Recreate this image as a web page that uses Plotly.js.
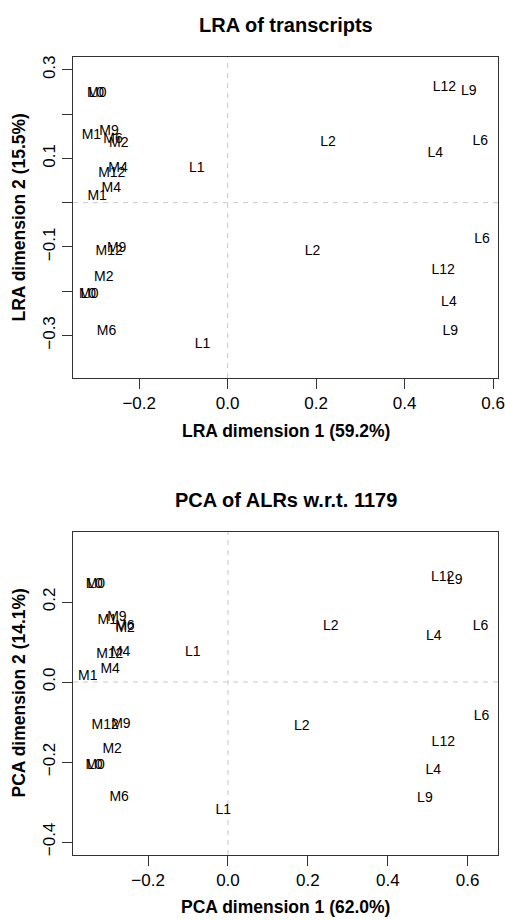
<!DOCTYPE html>
<html><head><meta charset="utf-8">
<script src="https://cdn.plot.ly/plotly-3.0.1.min.js"></script>
<style>html,body{margin:0;padding:0;background:#fff}#chart{width:505px;height:920px}</style>
</head><body><div id="chart"></div>
<script>
// Sample labels (two replicates per sample; L0 and M0 coincide)
const sampleLabels = ["M0","L0","M1","M9","M6","M2","M4","M12","M4","M1","L1",
  "M12","M9","M2","M0","L0","M6","L1",
  "L12","L9","L2","L6","L4","L6","L2","L12","L4","L9"];

// LRA coordinates
const lraDim1 = [-0.296,-0.297,-0.308,-0.268,-0.259,-0.246,-0.248,-0.262,-0.263,-0.295,-0.070,
  -0.268,-0.251,-0.280,-0.314,-0.315,-0.274,-0.057,
  0.490,0.545,0.227,0.571,0.469,0.575,0.192,0.487,0.500,0.503];
const lraDim2 = [0.247,0.247,0.151,0.160,0.142,0.133,0.078,0.066,0.033,0.014,0.078,
  -0.111,-0.104,-0.168,-0.208,-0.208,-0.291,-0.321,
  0.260,0.252,0.135,0.139,0.112,-0.084,-0.111,-0.154,-0.226,-0.291];

// PCA of ALRs coordinates
const pcaDim1 = [-0.332,-0.333,-0.302,-0.278,-0.258,-0.2575,-0.269,-0.296,-0.295,-0.351,-0.088,
  -0.3075,-0.268,-0.290,-0.3325,-0.3335,-0.2725,-0.012,
  0.5375,0.568,0.2575,0.632,0.515,0.635,0.185,0.539,0.514,0.493];
const pcaDim2 = [0.245,0.245,0.155,0.1625,0.140,0.134,0.074,0.070,0.0325,0.013,0.074,
  -0.109,-0.105,-0.1675,-0.2075,-0.2075,-0.288,-0.322,
  0.262,0.253,0.138,0.140,0.113,-0.087,-0.112,-0.152,-0.222,-0.291];

// Tick labels
const lraXTicks = [-0.2,0,0.2,0.4,0.6];
const lraXTickText = ["\u22120.2","0.0","0.2","0.4","0.6"];
const lraYTicks = [-0.3,-0.2,-0.1,0,0.1,0.2,0.3];
const lraYTickText = ["\u22120.3","","\u22120.1","","0.1","","0.3"];
const pcaXTicks = [-0.2,0,0.2,0.4,0.6];
const pcaXTickText = ["\u22120.2","0.0","0.2","0.4","0.6"];
const pcaYTicks = [-0.4,-0.2,0,0.2];
const pcaYTickText = ["\u22120.4","\u22120.2","0.0","0.2"];

const W = 505, H = 920;
const FONT = "Liberation Sans, Arial, Helvetica, sans-serif";
const px = v => v / W;
const py = v => (H - v) / H;

const traces = [
  {type:"scatter", mode:"text", x:lraDim1, y:lraDim2, text:sampleLabels, xaxis:"x", yaxis:"y",
   textposition:"middle center", textfont:{family:FONT, size:14, color:"#000"}, hoverinfo:"skip", cliponaxis:false, showlegend:false},
  {type:"scatter", mode:"text", x:pcaDim1, y:pcaDim2, text:sampleLabels, xaxis:"x2", yaxis:"y2",
   textposition:"middle center", textfont:{family:FONT, size:14, color:"#000"}, hoverinfo:"skip", cliponaxis:false, showlegend:false}
];

const axBase = {showline:true, mirror:true, linecolor:"#333", linewidth:1, ticks:"outside", ticklen:10,
  tickcolor:"#333", tickwidth:1, showgrid:false, zeroline:false, fixedrange:true,
  tickfont:{family:FONT, size:17, color:"#000"}, tickmode:"array"};

const dashStyle = {color:"#c8c8c8", width:1, dash:"5px,5px"};

const layout = {
  width:W, height:H, margin:{l:0,r:0,t:0,b:0}, paper_bgcolor:"#fff", plot_bgcolor:"#fff",
  font:{family:FONT, color:"#000"}, showlegend:false,
  xaxis:Object.assign({}, axBase, {domain:[px(73), px(498)], range:[-0.3496,0.611], anchor:"y",
    tickvals:lraXTicks, ticktext:lraXTickText}),
  yaxis:Object.assign({}, axBase, {domain:[py(378), py(57)], range:[-0.396,0.329], anchor:"x",
    tickvals:lraYTicks, ticktext:lraYTickText, tickangle:-90}),
  xaxis2:Object.assign({}, axBase, {domain:[px(73), px(498)], range:[-0.388,0.676], anchor:"y2",
    tickvals:pcaXTicks, ticktext:pcaXTickText}),
  yaxis2:Object.assign({}, axBase, {domain:[py(855), py(532)], range:[-0.4325,0.375], anchor:"x2",
    tickvals:pcaYTicks, ticktext:pcaYTickText, tickangle:-90}),
  shapes:[
    {type:"line", xref:"x", yref:"y domain", x0:0, x1:0, y0:0, y1:1, line:dashStyle, layer:"below"},
    {type:"line", xref:"x domain", yref:"y", x0:0, x1:1, y0:0, y1:0, line:dashStyle, layer:"below"},
    {type:"line", xref:"x2", yref:"y2 domain", x0:0, x1:0, y0:0, y1:1, line:dashStyle, layer:"below"},
    {type:"line", xref:"x2 domain", yref:"y2", x0:0, x1:1, y0:0, y1:0, line:dashStyle, layer:"below"}
  ],
  annotations:[
    {text:"<b>LRA of transcripts</b>", xref:"paper", yref:"paper", x:px(285.5), y:py(25), xanchor:"center", yanchor:"middle", showarrow:false, font:{family:FONT, size:20, color:"#000"}},
    {text:"<b>LRA dimension 1 (59.2%)</b>", xref:"paper", yref:"paper", x:px(285.5), y:py(431), xanchor:"center", yanchor:"middle", showarrow:false, font:{family:FONT, size:17.5, color:"#000"}},
    {text:"<b>LRA dimension 2 (15.5%)</b>", xref:"paper", yref:"paper", x:px(18), y:py(217.5), xanchor:"center", yanchor:"middle", textangle:-90, showarrow:false, font:{family:FONT, size:17.5, color:"#000"}},
    {text:"<b>PCA of ALRs w.r.t. 1179</b>", xref:"paper", yref:"paper", x:px(285.5), y:py(500), xanchor:"center", yanchor:"middle", showarrow:false, font:{family:FONT, size:20, color:"#000"}},
    {text:"<b>PCA dimension 1 (62.0%)</b>", xref:"paper", yref:"paper", x:px(285.5), y:py(907), xanchor:"center", yanchor:"middle", showarrow:false, font:{family:FONT, size:17.5, color:"#000"}},
    {text:"<b>PCA dimension 2 (14.1%)</b>", xref:"paper", yref:"paper", x:px(18), y:py(693.5), xanchor:"center", yanchor:"middle", textangle:-90, showarrow:false, font:{family:FONT, size:17.5, color:"#000"}}
  ]
};

Plotly.newPlot("chart", traces, layout, {staticPlot:true, displayModeBar:false});
</script>
</body></html>
